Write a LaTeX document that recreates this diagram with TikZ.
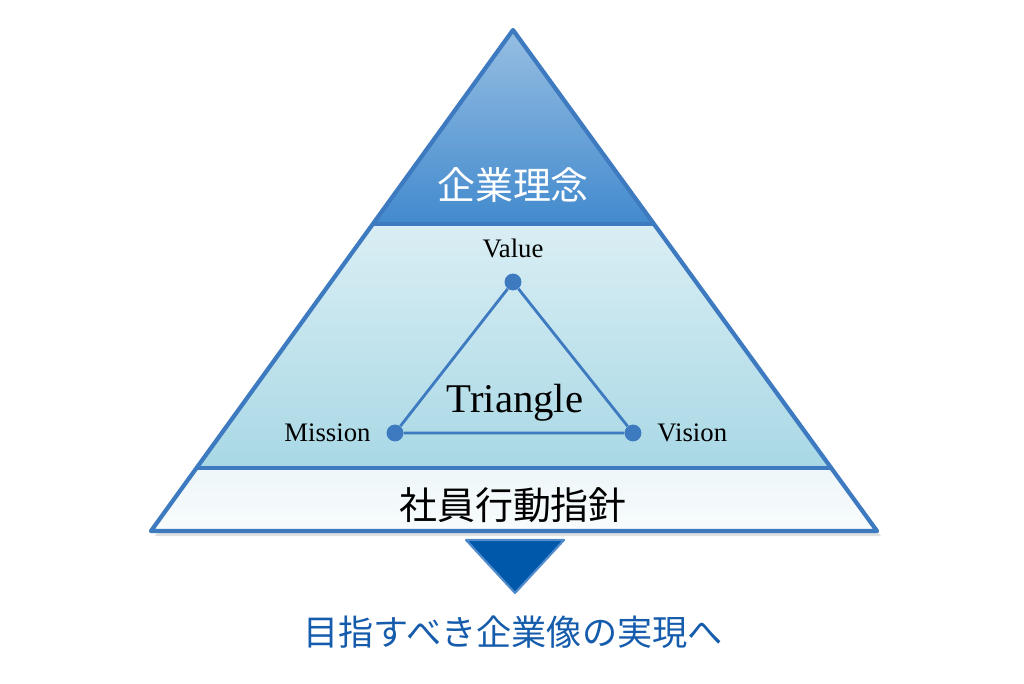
\documentclass[tikz,border=0pt]{standalone}
\usepackage{fontspec}
\setmainfont{Liberation Serif}
\newfontfamily\jp{Noto Sans CJK JP}
\usetikzlibrary{
  calc,
  positioning,
}
\definecolor{edge}{RGB}{62,122,192}
\definecolor{arrowblue}{RGB}{0,88,170}
\definecolor{goal}{RGB}{22,92,172}

\begin{document}
\begin{tikzpicture}[
    x=0.025cm, y=-0.025cm,
    band/.style={draw=edge, line width=3pt, line join=round},
    dot/.style={circle, fill=edge, inner sep=0pt, minimum size=12pt},
    lab/.style={font=\fontsize{19}{21}\selectfont, black},
    side/.style={edge, line width=2pt},
    jlab/.style={font=\jp\fontsize{27}{30}\selectfont},
  ]
  \useasboundingbox (0,0) rectangle (1024,683);

  % corners of the pyramid
  \coordinate (top) at (513,30);
  \coordinate (l1) at (372,224);
  \coordinate (r1) at (655,224);
  \coordinate (l2) at (197,468);
  \coordinate (r2) at (830,468);
  \coordinate (l3) at (151,531);
  \coordinate (r3) at (877,531);

  % soft shadow
  \fill[black, opacity=0.12] ($(top)+(4,5)$) -- ($(r3)+(4,5)$) -- ($(l3)+(4,5)$) -- cycle;

  \shade[top color={rgb,255:red,238;green,246;blue,249},
    bottom color={rgb,255:red,248;green,252;blue,253}]
  (l2) -- (r2) -- (r3) -- (l3) -- cycle;
  \shade[top color={rgb,255:red,218;green,238;blue,244},
    bottom color={rgb,255:red,168;green,216;blue,229}]
  (l1) -- (r1) -- (r2) -- (l2) -- cycle;
  \shade[top color={rgb,255:red,150;green,190;blue,226},
    bottom color={rgb,255:red,66;green,138;blue,206}]
  (top) -- (r1) -- (l1) -- cycle;

  \draw[band] (l1) -- (r1);
  \draw[band] (l2) -- (r2);
  \draw[band] (top) -- (r3) -- (l3) -- cycle;

  \node[jlab, white] (rinen) at (513,185) {企業理念};
  \node[jlab, black] (shishin) at (513,505) {社員行動指針};

  % inner triangle
  \foreach \n/\x/\y/\p/\t in {val/513/282/above/Value,
      mis/395/433/left/Mission, vis/633/433/right/Vision} {
      \node[dot, label={[lab, inner sep=0pt, label distance=11pt]\p:\t}] (\n) at (\x,\y) {};
    }
  \draw[side] (val) -- (vis) -- (mis) -- (val);
  \node[font=\fontsize{29}{32}\selectfont] (tri) at (515,403) {Triangle};

  % arrow and goal
  \coordinate (a1) at (466,540);
  \coordinate (a2) at (564,540);
  \coordinate (a3) at (515,593);
  \draw[fill=arrowblue, draw={rgb,255:red,80;green,138;blue,202}, line width=1.5pt,
    line join=round] (a1) -- (a2) -- (a3) -- cycle;
  \node[font=\jp\fontsize{25}{28}\selectfont, goal] (mokuhyo) at (513,632)
  {目指すべき企業像の実現へ};
\end{tikzpicture}
\end{document}
